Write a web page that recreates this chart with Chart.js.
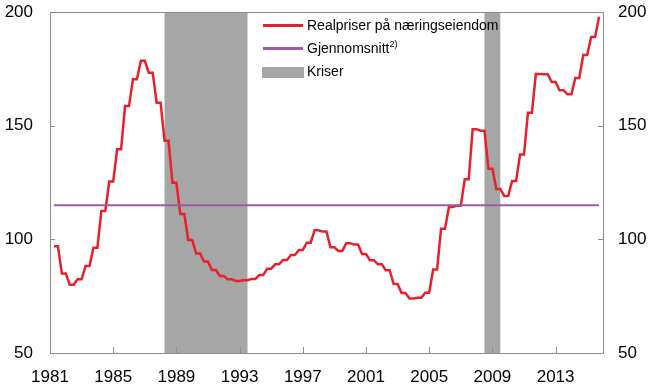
<!DOCTYPE html>
<html>
<head>
<meta charset="utf-8">
<script src="https://cdn.jsdelivr.net/npm/chart.js@4"></script>
<style>
  html, body { margin: 0; padding: 0; background: #fff; }
  #wrap { position: relative; width: 654px; height: 389px; font-family: "Liberation Sans", Arial, sans-serif; }
  #legend { position: absolute; left: 262px; top: 14px; font-size: 14px; color: #000; }
  #legend .row { position: relative; height: 23px; line-height: 23px; padding-left: 45px; white-space: nowrap; }
  #legend .mark { position: absolute; left: 1px; top: 10px; width: 40px; height: 3px; }
  #legend .box { position: absolute; left: 0; top: 7px; width: 42px; height: 11px; background: #a6a6a6; }
  #legend sup { font-size: 9px; line-height: 0; vertical-align: 6px; }
</style>
</head>
<body>
<div id="wrap">
  <canvas id="chart" width="654" height="389"></canvas>
  <div id="legend">
    <div class="row"><span class="mark" style="background:#e8202a"></span>Realpriser på næringseiendom</div>
    <div class="row"><span class="mark" style="background:#9b5ba6"></span>Gjennomsnitt<sup>2)</sup></div>
    <div class="row"><span class="box"></span>Kriser</div>
  </div>
</div>
<script>
// quarterly values from 1981 Q1, half-year figures shown as two quarters
const firstQuarter = 1981.25;
const realPrices = [
  97, 97, 85, 85,
  80, 80, 82.4, 82.4,
  88.3, 88.3, 96.3, 96.3,
  112.5, 112.5, 125.4, 125.4,
  139.6, 139.6, 158.6, 158.6,
  170.4, 170.4, 178.6, 178.6,
  173.3, 173.3, 160.1, 160.1,
  143.4, 143.4, 124.9, 124.9,
  111.1, 111.1, 99.7, 99.7,
  93.8, 93.8, 90.2, 90.2,
  86.5, 86.5, 83.9, 83.9,
  82.4, 82.4, 81.7, 81.7,
  82.0, 82.0, 82.6, 82.6,
  84.3, 84.3, 87.1, 87.1,
  89.0, 89.0, 90.9, 90.9,
  93.1, 93.1, 95.3, 95.3,
  98.5, 98.5, 104.0, 104.0,
  103.4, 103.4, 96.5, 96.5,
  94.9, 94.9, 98.3, 98.3,
  97.7, 97.7, 93.5, 93.5,
  90.8, 90.8, 89.0, 89.0,
  86.4, 86.4, 80.3, 80.3,
  76.4, 76.4, 74.0, 74.0,
  74.3, 74.3, 76.5, 76.5,
  86.7, 86.7, 104.7, 104.7,
  114.2, 114.2, 114.8, 114.8,
  126.4, 126.4, 148.4, 148.4,
  147.8, 147.8, 131.0, 131.0,
  122.1, 122.1, 119.1, 119.1,
  125.7, 125.7, 137.3, 137.3,
  155.7, 155.7, 172.7, 172.7,
  172.6, 172.6, 169.2, 169.2,
  165.6, 165.6, 163.8, 163.8,
  171.0, 171.0, 181.1, 181.1,
  189.0, 189.0, 197.9
];
const average = 115;
const crises = [[1988.25, 1993.5], [2008.5, 2009.5]];
const xTicks = [1981, 1985, 1989, 1993, 1997, 2001, 2005, 2009, 2013];
const yTicks = [50, 100, 150, 200];

const realPoints = realPrices.map((v, i) => ({ x: firstQuarter + i * 0.25, y: v }));
const lastX = realPoints[realPoints.length - 1].x;

const frameColor = '#8c8c8c';

const chartDecor = {
  id: 'chartDecor',
  beforeDatasetsDraw(chart) {
    const { ctx, chartArea, scales } = chart;
    ctx.save();
    ctx.fillStyle = '#a6a6a6';
    crises.forEach(c => {
      const x1 = scales.x.getPixelForValue(c[0]);
      const x2 = scales.x.getPixelForValue(c[1]);
      ctx.fillRect(x1, chartArea.top, x2 - x1, chartArea.bottom - chartArea.top);
    });
    ctx.restore();
  },
  afterDatasetsDraw(chart) {
    const { ctx, chartArea, scales } = chart;
    const { left, right, top, bottom } = chartArea;
    ctx.save();
    ctx.strokeStyle = frameColor;
    ctx.lineWidth = 1;
    ctx.beginPath();
    ctx.rect(left + 0.5, top + 0.5, right - left, bottom - top);
    xTicks.forEach(t => {
      const x = Math.round(scales.x.getPixelForValue(t)) + 0.5;
      ctx.moveTo(x, bottom);
      ctx.lineTo(x, bottom - 6);
    });
    yTicks.forEach(t => {
      const y = Math.round(scales.y.getPixelForValue(t)) + 0.5;
      ctx.moveTo(left, y);
      ctx.lineTo(left + 5, y);
      ctx.moveTo(right, y);
      ctx.lineTo(right - 5, y);
    });
    ctx.stroke();
    ctx.restore();
  }
};

const tickFont = { family: '"Liberation Sans", Arial, sans-serif', size: 17 };

function fitY(width) {
  return s => {
    s.width = width;
    s.paddingTop = 0;
    s.paddingBottom = 0;
  };
}

new Chart(document.getElementById('chart'), {
  type: 'line',
  data: {
    datasets: [
      {
        label: 'Gjennomsnitt',
        data: [{ x: firstQuarter, y: average }, { x: lastX, y: average }],
        borderColor: '#9b5ba6',
        borderWidth: 2,
        pointRadius: 0
      },
      {
        label: 'Realpriser på næringseiendom',
        data: realPoints,
        borderColor: '#e8202a',
        borderWidth: 2.5,
        pointRadius: 0,
        tension: 0
      }
    ]
  },
  options: {
    responsive: false,
    animation: false,
    layout: { padding: { top: 12, left: 0, right: 0, bottom: 0 } },
    plugins: { legend: { display: false }, tooltip: { enabled: false } },
    scales: {
      x: {
        type: 'linear',
        min: 1981,
        max: 2016,
        grid: { display: false, drawTicks: false },
        border: { display: false },
        afterBuildTicks: s => { s.ticks = xTicks.map(v => ({ value: v })); },
        afterFit: s => { s.height = 36; s.paddingLeft = 0; s.paddingRight = 0; },
        ticks: { color: '#000', font: tickFont, padding: 14, maxRotation: 0, autoSkip: false, callback: v => String(v) }
      },
      y: {
        position: 'left',
        min: 50,
        max: 200,
        grid: { display: false, drawTicks: false },
        border: { display: false },
        afterBuildTicks: s => { s.ticks = yTicks.map(v => ({ value: v })); },
        afterFit: fitY(50),
        ticks: { color: '#000', font: tickFont, padding: 17, callback: v => String(v) }
      },
      y2: {
        position: 'right',
        min: 50,
        max: 200,
        grid: { display: false, drawTicks: false },
        border: { display: false },
        afterBuildTicks: s => { s.ticks = yTicks.map(v => ({ value: v })); },
        afterFit: fitY(51),
        ticks: { color: '#000', font: tickFont, padding: 15, callback: v => String(v) }
      }
    }
  },
  plugins: [chartDecor]
});
</script>
</body>
</html>
